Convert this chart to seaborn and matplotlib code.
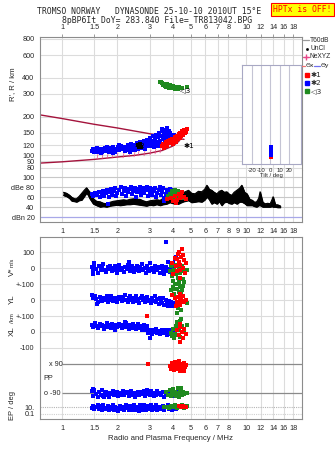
import numpy as np
import pandas as pd
import matplotlib
matplotlib.use("Agg")
import matplotlib.pyplot as plt
import seaborn as sns

# ---------------- data ----------------
freq_ticks_top = [1, 1.5, 2, 3, 4, 5, 6, 7, 8, 10, 12, 14, 16, 18]
freq_ticks_mid = [1, 1.5, 2, 3, 4, 5, 6, 7, 8, 9, 10, 12, 14, 16, 18]
freq_labels_top = ["1", "1.5", "2", "3", "4", "5", "6", "7", "8", "10", "12", "14", "16", "18"]
freq_labels_mid = ["1", "1.5", "2", "3", "4", "5", "6", "7", "8", "9", "10", "12", "14", "16", "18"]
range_ticks = [80, 90, 100, 120, 150, 200, 300, 400, 600, 800]
dbe_ticks = [100, 80, 60, 40, 20]
dbe_labels = ["100", "dBe 80", "60", "40", "dBn 20"]
tilt_ticks = [-20, -10, 0, 10, 20]

# model lines (f MHz, R km)
line_upper_f = [0.76, 1.0, 1.5, 2.0, 3.0, 4.0, 4.6]
line_upper_r = [206, 193, 174, 163, 147, 137, 133]
line_lower_f = [0.76, 1.0, 1.5, 2.0, 2.5, 3.0, 3.5, 4.0, 4.3, 4.6]
line_lower_r = [87, 89, 93, 97, 100, 104, 109, 118, 128, 145]

nexyz_f = [1.55, 1.65, 1.75, 1.87, 2.0, 2.15, 2.3, 2.45, 2.6, 2.8, 3.0, 3.2, 3.4]
nexyz_r = [98, 99, 99, 100, 100, 101, 102, 103, 104, 105, 106, 108, 110]

echo_blue_r = [(1.46,108),(1.48,112),(1.50,106),(1.52,110),(1.55,113),(1.57,107),(1.60,109),(1.63,112),(1.66,106),(1.68,110),
    (1.71,114),(1.74,108),(1.77,111),(1.80,107),(1.83,113),(1.86,109),(1.89,115),(1.92,110),(1.95,106),(1.98,112),
    (2.01,117),(2.04,109),(2.07,113),(2.10,119),(2.13,111),(2.16,115),(2.19,108),(2.22,117),(2.25,112),(2.28,120),
    (2.31,110),(2.34,116),(2.37,122),(2.40,113),(2.43,118),(2.46,110),(2.49,121),(2.52,115),(2.55,124),(2.58,112),
    (2.62,119),(2.66,126),(2.70,114),(2.74,121),(2.78,128),(2.82,117),(2.86,124),(2.90,131),(2.94,119),(2.98,127),
    (3.02,136),(3.06,121),(3.10,130),(3.14,140),(3.18,124),(3.22,133),(3.26,145),(3.30,127),(3.34,138),(3.38,150),
    (3.42,130),(3.46,142),(3.50,155),(3.54,133),(3.58,146),(3.62,125),(3.66,140),(3.70,152),(3.74,130),(3.78,145),
    (3.82,135),(3.86,148),(3.90,128),(3.95,140),(4.00,132),(4.05,145),(4.10,136),(3.48,160),(3.60,158),(3.72,162),
    (1.62,104),(1.75,115),(1.90,105),(2.05,120),(2.20,114),(2.35,106),(2.50,110),(2.68,117),(2.84,112),(3.00,118),
    (3.16,116),(3.32,119),(3.44,123),(3.56,138),(3.68,132),(3.80,155)]
echo_red_r = [(3.50,119),(3.55,123),(3.60,117),(3.65,126),(3.70,121),(3.75,129),(3.80,124),(3.85,132),(3.90,127),(3.95,135),
    (4.00,122),(4.05,130),(4.10,138),(4.15,127),(4.20,142),(4.25,133),(4.30,146),(4.35,137),(4.40,150),(4.45,140),
    (4.50,154),(4.55,144),(4.60,158),(4.65,148),(4.70,152),(4.75,160),(3.58,114),(3.72,118)]
echo_green_r = [(3.45,372),(3.50,365),(3.58,358),(3.62,348),(3.66,340),(3.70,355),(3.75,345),(3.80,335),(3.85,350),(3.90,340),
    (3.95,332),(4.00,345),(4.05,338),(4.10,330),(4.15,342),(4.20,335),(4.25,328),(4.30,338),(4.40,332),(4.50,336),
    (4.75,340),(3.40,368),(3.55,350)]
unclassified_r = [(2.60,120),(2.63,118),(2.66,122),(2.68,117),(2.62,116)]

tilt_blue = [(0.3,100),(0.3,104),(0.3,108),(0.3,112),(0.3,116)]
tilt_red = [(0.9,97),(0.9,101),(0.9,105),(0.9,109),(0.9,113)]

# amplitude (f, dB)
noise_f = [1.02,1.06,1.10,1.13,1.17,1.20,1.24,1.28,1.32,1.36,1.39,1.42,1.45,1.48,1.54,1.61,1.68,1.75,1.82,1.90,
    1.98,2.07,2.16,2.25,2.34,2.44,2.54,2.65,2.76,2.88,3.00,3.13,3.27,3.41,3.55,3.70,3.85,4.00,4.15,4.29,
    4.45,4.60,4.86,5.05,5.28,5.50,5.74,5.95,6.12,6.30,6.50,6.70,6.93,7.15,7.37,7.60,7.85,8.10,8.35,8.60,
    8.90,9.20,9.47,9.80,10.1,10.45,10.8,11.1,11.4,11.7,11.9,12.3,12.7,13.1,13.5,13.8,14.0,14.4,14.8,15.3]
noise_lo = [64,62,58,53,52,51,54,55,62,69,64,57,52,47,44,41,42,41,43,44,
    45,44,45,46,46,47,46,45,44,43,45,44,46,44,46,47,50,48,47,47,
    50,52,54,50,51,52,51,55,61,56,47,50,47,52,44,50,51,48,47,50,
    47,51,51,48,44,44,44,42,41,44,44,41,41,41,41,42,41,41,40,40]
noise_hi = [70,68,64,60,57,57,62,68,74,79,74,70,62,57,52,51,48,47,50,52,
    53,54,55,54,56,57,56,56,53,51,53,54,55,54,58,60,68,72,68,70,
    66,70,74,68,67,72,71,76,84,76,74,70,67,72,74,70,71,66,64,70,
    74,78,84,70,67,56,54,50,51,58,71,50,47,48,47,55,61,45,45,43]
amp_blue = [(1.45,66),(1.48,62),(1.52,68),(1.55,64),(1.58,70),(1.61,60),(1.64,66),(1.67,72),(1.70,63),(1.73,68),
    (1.76,74),(1.79,61),(1.82,70),(1.85,76),(1.88,65),(1.91,72),(1.94,78),(1.97,62),(2.00,69),(2.04,75),
    (2.08,80),(2.12,66),(2.16,72),(2.20,78),(2.24,63),(2.28,70),(2.32,76),(2.36,81),(2.40,67),(2.44,73),
    (2.48,79),(2.52,60),(2.56,70),(2.60,76),(2.64,81),(2.68,64),(2.72,72),(2.76,78),(2.80,68),(2.85,74),
    (2.90,80),(2.95,62),(3.00,70),(3.05,76),(3.10,65),(3.15,72),(3.20,79),(3.25,60),(3.30,68),(3.35,75),
    (3.40,81),(3.45,64),(3.50,71),(3.55,78),(3.60,58),(3.65,67),(3.70,74),(3.75,61),(3.80,70),(3.85,76),
    (3.90,63),(3.95,72),(4.00,66),(4.05,74),(4.10,60),(1.78,46),(3.60,52),(2.20,74),(2.60,72),(3.00,78)]
amp_red = [(3.9,58),(4.0,52),(4.1,62),(4.2,55),(4.3,66),(4.4,58),(4.5,70),(4.6,61),(4.7,56),(4.15,48),(4.45,64),(3.7,56)]
amp_green = [(3.85,66),(3.95,72),(4.0,63),(4.05,70),(4.1,75),(4.15,67),(4.2,61),(4.25,72),(4.3,65),(4.35,60),
    (4.4,68),(4.55,58),(3.75,62),(4.1,58)]

# velocity V* (m/s)
v_blue = [(1.45,5),(1.47,-20),(1.50,20),(1.53,-5),(1.56,-30),(1.59,10),(1.62,-15),(1.65,0),(1.68,25),(1.71,-10),
    (1.74,-25),(1.77,5),(1.80,-8),(1.83,15),(1.86,-20),(1.89,0),(1.92,-12),(1.95,10),(1.98,-28),(2.01,-3),
    (2.05,18),(2.09,-15),(2.13,2),(2.17,-22),(2.21,8),(2.25,-6),(2.29,22),(2.33,-18),(2.37,-2),(2.41,12),
    (2.45,-25),(2.49,0),(2.53,-10),(2.57,15),(2.61,-20),(2.65,5),(2.69,-8),(2.73,25),(2.77,-15),(2.81,2),
    (2.85,-30),(2.89,10),(2.93,-5),(2.97,-18),(3.01,30),(3.05,-10),(3.10,3),(3.15,-22),(3.20,12),(3.25,-5),
    (3.30,-15),(3.35,8),(3.40,-28),(3.45,0),(3.50,15),(3.55,-12),(3.60,-35),(3.65,5),(3.70,-20),(3.75,40),
    (3.80,-8),(3.85,-25),(3.90,10),(3.95,-15),(4.00,30),(4.05,-5),(1.50,30),(2.30,35),(1.47,-35),(3.68,165),
    (4.10,55),(4.15,70),(4.20,20)]
v_red = [(3.95,30),(4.0,-40),(4.1,60),(4.15,10),(4.2,-20),(4.25,90),(4.3,40),(4.35,-10),(4.4,20),(4.45,70),
    (4.5,117),(4.55,0),(4.6,50),(4.65,-30),(4.7,30),(4.4,-60),(4.3,100),(4.55,80),(4.2,55)]
v_green = [(3.85,-20),(3.9,10),(3.95,-50),(4.0,-80),(4.05,-10),(4.1,20),(4.15,-40),(4.2,-100),(4.25,-60),(4.3,0),
    (4.35,-120),(4.4,-30),(4.45,-150),(4.5,10),(4.55,-70),(4.6,-20),(4.75,-10),(4.7,30),(4.1,-130),(4.3,-90),(4.5,-110)]

# YL (km)
yl_blue = [(1.45,30),(1.48,15),(1.51,25),(1.54,5),(1.57,-10),(1.60,20),(1.63,8),(1.66,-5),(1.69,15),(1.72,0),
    (1.75,22),(1.78,-12),(1.81,10),(1.84,25),(1.87,3),(1.90,-8),(1.93,15),(1.96,5),(1.99,-15),(2.03,20),
    (2.07,8),(2.11,-5),(2.15,18),(2.19,30),(2.23,2),(2.27,-10),(2.31,14),(2.35,25),(2.39,0),(2.43,-12),
    (2.47,10),(2.51,22),(2.55,-5),(2.59,8),(2.63,-18),(2.67,15),(2.71,28),(2.75,-2),(2.79,10),(2.83,-15),
    (2.87,5),(2.91,20),(2.95,-8),(3.00,0),(3.05,-20),(3.10,12),(3.15,-5),(3.20,25),(3.25,-12),(3.30,5),
    (3.35,-25),(3.40,10),(3.45,-8),(3.50,-20),(3.55,15),(3.60,-30),(3.65,0),(3.70,-15),(3.75,-35),(3.80,-5),
    (3.85,-25),(3.90,-10),(3.95,-40),(4.00,-20),(1.55,-25)]
yl_red = [(4.1,10),(4.2,-10),(4.25,20),(4.3,-20),(4.35,5),(4.4,-30),(4.45,15),(4.5,-5),(4.55,25),(4.6,-15),
    (4.7,0),(4.15,-40),(4.4,40),(3.95,30)]
yl_green = [(3.9,60),(4.0,80),(4.05,40),(4.1,100),(4.2,70),(4.25,-50),(4.3,50),(4.35,90),(4.4,30),(4.5,60),
    (4.6,110),(4.2,-80),(4.45,-60),(4.55,85),(4.75,-20)]

# XL (km)
xl_blue = [(1.45,45),(1.48,30),(1.51,55),(1.54,40),(1.57,25),(1.60,50),(1.63,35),(1.66,45),(1.69,20),(1.72,40),
    (1.75,55),(1.78,30),(1.81,42),(1.84,25),(1.87,50),(1.90,35),(1.93,15),(1.96,45),(1.99,30),(2.03,52),
    (2.07,38),(2.11,22),(2.15,45),(2.19,30),(2.23,55),(2.27,35),(2.31,18),(2.35,42),(2.39,28),(2.43,48),
    (2.47,33),(2.51,20),(2.55,40),(2.59,52),(2.63,25),(2.67,38),(2.71,15),(2.75,30),(2.79,45),(2.83,20),
    (2.87,10),(2.91,35),(2.95,-5),(3.00,15),(3.05,5),(3.10,-10),(3.15,10),(3.20,0),(3.25,20),(3.30,-5),
    (3.35,8),(3.40,-15),(3.45,5),(3.50,15),(3.55,-8),(3.60,2),(3.65,12),(3.70,-20),(3.75,5),(3.80,-5),
    (3.85,10),(3.90,-12),(4.00,0),(4.10,20),(3.00,-35),(2.20,60)]
xl_red = [(2.9,100),(4.2,10),(4.3,-20),(4.4,30),(4.5,0),(4.6,20),(4.7,-10),(4.35,50),(4.55,-40),(4.4,-60)]
xl_green = [(3.9,-5),(4.0,20),(4.1,-15),(4.15,40),(4.2,60),(4.25,-20),(4.3,10),(4.35,70),(4.4,-30),(4.5,35),
    (4.6,5),(4.7,-10),(4.8,45),(3.95,-25),(4.05,-40),(4.45,80)]

# polarization PP (deg)
pp_red = [(2.92,92),(3.85,80),(3.9,62),(3.95,98),(4.0,75),(4.05,55),(4.1,85),(4.15,68),(4.2,103),(4.25,60),
    (4.3,80),(4.35,52),(4.4,95),(4.45,70),(4.5,84),(4.55,58),(4.6,100),(4.65,74),(4.7,88),(4.1,108),
    (4.3,110),(4.5,64),(4.0,92),(4.6,50)]
pp_blue = [(1.45,-78),(1.48,-108),(1.50,-70),(1.53,-95),(1.56,-112),(1.59,-84),(1.62,-100),(1.65,-72),(1.68,-106),(1.71,-90),
    (1.74,-80),(1.77,-98),(1.80,-114),(1.83,-86),(1.86,-95),(1.89,-74),(1.92,-104),(1.95,-92),(1.98,-82),(2.02,-110),
    (2.06,-88),(2.10,-99),(2.14,-76),(2.18,-103),(2.22,-90),(2.26,-84),(2.30,-108),(2.34,-94),(2.38,-74),(2.42,-101),
    (2.46,-86),(2.50,-112),(2.54,-92),(2.58,-80),(2.62,-104),(2.66,-90),(2.70,-82),(2.74,-97),(2.78,-75),(2.82,-106),
    (2.86,-92),(2.95,-85),(3.00,-100),(3.05,-78),(3.10,-95),(3.15,-110),(3.20,-88),(3.25,-98),(3.30,-74),(3.38,-93),
    (3.45,-104),(3.52,-84),(3.60,-112),(3.68,-90),(3.75,-80),(3.82,-99),(3.90,-86),(3.98,-108),(4.05,-92),(4.15,-82),
    (4.25,-97),(1.47,-64),(2.90,-68),(1.70,-115),(2.40,-88),(3.35,-86)]
pp_green = [(3.65,-80),(3.75,-100),(3.85,-70),(3.9,-106),(3.95,-88),(4.0,-66),(4.05,-98),(4.1,-80),(4.15,-110),(4.2,-90),
    (4.25,-60),(4.3,-102),(4.35,-76),(4.4,-94),(4.45,-58),(4.5,-104),(4.55,-84),(4.6,-96),(4.75,-90),(4.3,-114)]

# error EP (deg)
ep_blue = [(1.45,6),(1.48,25),(1.50,2),(1.53,12),(1.56,40),(1.59,3),(1.62,15),(1.65,1.2),(1.68,30),(1.71,5),
    (1.74,2),(1.77,20),(1.80,1),(1.83,9),(1.86,3),(1.89,35),(1.92,1.5),(1.95,14),(1.98,6),(2.02,0.9),
    (2.06,22),(2.10,2.5),(2.14,10),(2.18,1.2),(2.22,45),(2.26,4),(2.30,1.6),(2.34,18),(2.38,1),(2.42,7),
    (2.46,50),(2.50,1.4),(2.54,12),(2.58,3),(2.62,0.8),(2.66,28),(2.70,4),(2.74,1.5),(2.78,38),(2.82,6),
    (2.86,1.1),(2.95,16),(3.00,2.5),(3.05,32),(3.10,1.3),(3.15,11),(3.20,3),(3.25,42),(3.30,1.6),(3.38,14),
    (3.45,2.2),(3.52,24),(3.60,1),(3.68,8),(3.75,36),(3.82,2),(3.90,12),(3.98,1.4),(4.05,20),(4.15,3),(4.25,10)]
ep_green = [(3.7,12),(3.8,6),(3.9,25),(4.0,8),(4.1,30),(4.2,5),(4.3,18),(4.4,9),(4.5,28),(4.6,7),(4.75,15),(3.6,10)]
ep_red = [(4.3,15),(4.45,8),(4.55,22),(4.65,11),(4.7,14)]

# ---------------- style ----------------
sns.set_theme(style="white")
plt.rcParams['font.family'] = ['Liberation Sans', 'DejaVu Sans']
BLUE, RED, GREEN = "#0000ff", "#ff0000", "#1f8a1f"
FRAME, GRID = "#8c8c8c", "#dcdcdc"
TS = 5.2
MS = 6.5
W, H = 335, 451

fig = plt.figure(figsize=(W / 100, H / 100), dpi=100)
fig.patch.set_facecolor("white")

def fax(l, t, r, b):
    return fig.add_axes([l / W, 1 - b / H, (r - l) / W, (b - t) / H])

def freq_axis(ax, where, ticks, labels):
    ax.set_xscale("log")
    ax.set_xlim(0.76, 20.1)
    ax.set_xticks(ticks)
    ax.set_xticklabels(labels)
    ax.minorticks_off()
    for f in ticks:
        ax.axvline(f, color=GRID, lw=0.8, zorder=0)
    if where == "top":
        ax.xaxis.tick_top()
    ax.tick_params(axis="both", labelsize=TS, length=2.5, width=0.6, color=FRAME, pad=1.5)
    ax.set_facecolor("white")
    for s in ax.spines.values():
        s.set_color(FRAME)
        s.set_linewidth(0.8)

def pts(ax, data, color, offset=0.0, s=MS, transform=None, marker="s"):
    df = pd.DataFrame(data, columns=["f", "v"])
    y = df["v"] if transform is None else transform(df["v"])
    df["y"] = y + offset
    sns.scatterplot(data=df, x="f", y="y", ax=ax, color=color, marker=marker, s=s,
                    linewidth=0, legend=False, zorder=3)

# ---------------- top panel: virtual range ----------------
ax1 = fax(40, 37, 302, 170)
freq_axis(ax1, "top", freq_ticks_top, freq_labels_top)
ax1.set_yscale("log")
ax1.set_ylim(76.9, 829)
ax1.set_yticks(range_ticks)
ax1.set_yticklabels([str(v) for v in range_ticks])
ax1.minorticks_off()
for r in range_ticks:
    ax1.axhline(r, color=GRID, lw=0.8, zorder=0)
ax1.spines["bottom"].set_visible(False)

lines = pd.DataFrame({"f": line_upper_f + line_lower_f,
                      "r": line_upper_r + line_lower_r,
                      "k": ["u"] * len(line_upper_f) + ["l"] * len(line_lower_f)})
sns.lineplot(data=lines, x="f", y="r", units="k", estimator=None, sort=False, ax=ax1,
             color="#a4133c", lw=1.0, legend=False, zorder=2)
pts(ax1, list(zip(nexyz_f, nexyz_r)), "#e8488a", s=14, marker="$I$")
pts(ax1, echo_blue_r, BLUE)
pts(ax1, echo_red_r, RED)
pts(ax1, echo_green_r, GREEN)
pts(ax1, unclassified_r, "black")
ax1.text(2.66, 119, "✱2", fontsize=5.2, color="black", ha="center", va="center", family=["DejaVu Sans"], zorder=4)
ax1.text(4.55, 118, "✱1", fontsize=5.2, color="black", ha="left", va="center", family=["DejaVu Sans"], zorder=4)
ax1.text(4.35, 322, "◁3", fontsize=5.2, color="black", ha="left", va="center", family=["DejaVu Sans"], zorder=4)
ax1.set_xlabel(""); ax1.set_ylabel("")

# ---------------- amplitude panel ----------------
ax2 = fax(40, 170, 302, 222)
freq_axis(ax2, "bottom", freq_ticks_mid, freq_labels_mid)
ax2.set_ylim(10.6, 114.6)
ax2.set_yticks(dbe_ticks)
ax2.set_yticklabels(dbe_labels)
for v in [100, 80, 60, 40]:
    ax2.axhline(v, color="#c8c8c8", lw=0.8, zorder=0)
ax2.axhline(20, color="#a8a8e8", lw=0.9, zorder=0)
ax2.spines["top"].set_visible(False)
ax2.fill_between(noise_f, noise_lo, noise_hi, color="black", lw=0.8, zorder=2)
noise = pd.DataFrame({"f": noise_f * 2, "v": noise_lo + noise_hi,
                      "k": ["lo"] * len(noise_f) + ["hi"] * len(noise_f)})
sns.lineplot(data=noise, x="f", y="v", units="k", estimator=None, sort=False, ax=ax2,
             color="black", lw=0.8, legend=False, zorder=2)
pts(ax2, amp_blue, BLUE)
pts(ax2, amp_green, GREEN)
pts(ax2, amp_red, RED)
ax2.set_xlabel(""); ax2.set_ylabel("")

# ---------------- lower panel ----------------
ax3 = fax(40, 237, 302, 419)
freq_axis(ax3, "bottom", freq_ticks_top, freq_labels_top)
ax3.set_ylim(-944, 194)
low_ticks = [100, 0, -100, -200, -300, -400, -500, -869, -912]
low_labels = ["100", "0", "+-100", "0", "+-100", "0", "-100", "10.", "0.1"]
ax3.set_yticks(low_ticks)
ax3.set_yticklabels(low_labels)
for v in [100, 0, -100, -200, -300, -400, -500]:
    ax3.axhline(v, color=GRID, lw=0.8, zorder=0)
ax3.hlines([-603, -783], 1.0, 20.1, color="#8a8a8a", lw=0.9, zorder=1)
ax3.axhline(-869, color="#b4b4b4", lw=0.8, ls=(0, (1, 1)), zorder=0)
ax3.axhline(-912, color="#d0d0d0", lw=0.8, ls=(0, (1, 1)), zorder=0)
ax3.text(0.087, -603, "x 90", transform=ax3.get_yaxis_transform(), fontsize=TS, ha="right", va="center")
ax3.text(0.080, -783, "o -90", transform=ax3.get_yaxis_transform(), fontsize=TS, ha="right", va="center")
ax3.text(0.012, -693, "PP", transform=ax3.get_yaxis_transform(), fontsize=TS, ha="left", va="center")

pts(ax3, v_blue, BLUE)
pts(ax3, yl_blue, BLUE, offset=-200)
pts(ax3, xl_blue, BLUE, offset=-400)
pts(ax3, v_green, GREEN)
pts(ax3, yl_green, GREEN, offset=-200)
pts(ax3, xl_green, GREEN, offset=-400)
pts(ax3, v_red, RED)
pts(ax3, yl_red, RED, offset=-200)
pts(ax3, xl_red, RED, offset=-400)
pts(ax3, pp_blue, BLUE, offset=-693)
pts(ax3, pp_green, GREEN, offset=-693)
pts(ax3, pp_red, RED, offset=-693)
ep_tr = lambda v: 21.5 * (np.log10(v) + 1)
pts(ax3, ep_blue, BLUE, offset=-912, transform=ep_tr)
pts(ax3, ep_green, GREEN, offset=-912, transform=ep_tr)
pts(ax3, ep_red, RED, offset=-912, transform=ep_tr)
ax3.set_xlabel(""); ax3.set_ylabel("")

# ---------------- tilt inset ----------------
ax4 = fax(242, 64.7, 301, 164)
ax4.set_zorder(10)
ax4.set_facecolor("white")
ax4.set_xlim(-30.5, 33)
ax4.set_yscale("log")
ax4.set_ylim(85.6, 505)
ax4.minorticks_off()
ax4.set_yticks([])
ax4.set_xticks(tilt_ticks)
ax4.set_xticklabels([str(t) for t in tilt_ticks])
ax4.tick_params(axis="x", labelsize=4.3, length=0, pad=3)
for t in tilt_ticks:
    ax4.axvline(t, color="#c4c4d4", lw=0.8, zorder=0)
for s in ax4.spines.values():
    s.set_color("#a8a8c4")
    s.set_linewidth(0.8)
pts(ax4, tilt_red, RED, s=5)
pts(ax4, tilt_blue, BLUE, s=5)
ax4.set_ylabel("")
ax4.set_xlabel("Tilt / deg", fontsize=4.3, labelpad=0)

# ---------------- legend ----------------
axl = fax(299, 35, 335, 96)
axl.set_xlim(299, 335); axl.set_ylim(96, 35); axl.axis("off")
LS = 4.8
axl.plot([303, 309], [40, 40], color="#9a9a9a", lw=0.9)
axl.text(310, 40, "T60dB", fontsize=LS, va="center")
axl.plot([306.5], [48.5], marker="s", ms=0.9, color="black", lw=0)
axl.text(310.5, 48.5, "UnCl", fontsize=LS, va="center")
axl.plot([303, 309], [57, 57], color="#e8488a", lw=0.8)
axl.plot([305.5], [57], marker="+", ms=4, color="#e8488a", lw=0)
axl.text(309.5, 57, "NeXYZ", fontsize=LS, va="center")
axl.plot([300, 305], [65.5, 65.5], color="#f07070", lw=0.9)
axl.text(305.5, 65.5, "Θx", fontsize=4.4, va="center", family=["DejaVu Sans"])
axl.plot([314, 320], [65.5, 65.5], color="#7070f0", lw=0.9)
axl.text(320.5, 65.5, "Θy", fontsize=4.4, va="center", family=["DejaVu Sans"])
for yy, c, lab in [(75, RED, "✱1"), (83, BLUE, "✱2"), (91, GREEN, "◁3")]:
    axl.plot([307], [yy], marker="s", ms=2.2, color=c, lw=0)
    axl.text(311, yy, lab, fontsize=5.2, va="center", family=["DejaVu Sans"])

# ---------------- texts ----------------
fig.text(149 / W, 1 - 12 / H, "TROMSO NORWAY   DYNASONDE 25-10-10 2010UT 15°E",
         fontsize=5.9, family=["DejaVu Sans Mono"], ha="center", va="center")
fig.text(157 / W, 1 - 20.5 / H, "8pBP6It DoY= 283.840 File= TR813042.BPG",
         fontsize=5.9, family=["DejaVu Sans Mono"], ha="center", va="center")
fig.text(302.5 / W, 1 - 9.5 / H, "HPTx is OFF!", fontsize=5.9, family=["DejaVu Sans Mono"],
         color="red", ha="center", va="center",
         bbox=dict(boxstyle="square,pad=0.25", facecolor="#ffff00", edgecolor="red", lw=0.8))
fig.text(12.5 / W, 1 - 84 / H, "R', R / km", rotation=90, fontsize=5.6, ha="center", va="center")
fig.text(12 / W, 1 - 272 / H, "V*", rotation=90, fontsize=5.8, ha="center", va="center")
fig.text(12 / W, 1 - 262 / H, "m/s", rotation=90, fontsize=4.2, ha="center", va="center")
fig.text(12 / W, 1 - 299 / H, "YL", rotation=90, fontsize=5.8, ha="center", va="center")
fig.text(12.5 / W, 1 - 318 / H, "/km", rotation=90, fontsize=4.4, ha="center", va="center")
fig.text(12 / W, 1 - 331 / H, "XL", rotation=90, fontsize=5.8, ha="center", va="center")
fig.text(13 / W, 1 - 405 / H, "EP / deg", rotation=90, fontsize=5.4, ha="center", va="center")
fig.text(170 / W, 1 - 439 / H, "Radio and Plasma Frequency / MHz", fontsize=5.6, ha="center", va="center")

fig.savefig("out.png", dpi=100, facecolor="white")
